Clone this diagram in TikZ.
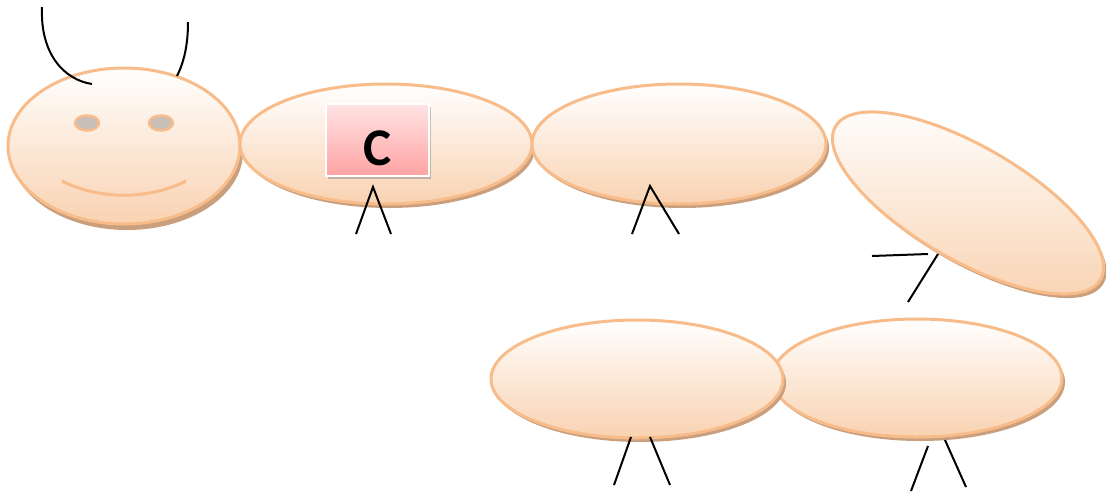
\documentclass[tikz,border=0pt]{standalone}
\usepackage{fontspec}
\setmainfont{Carlito}
\usetikzlibrary{shadows}
\definecolor{peachline}{HTML}{F8BC8A}
\definecolor{peachfill}{HTML}{F9D2B1}
\definecolor{shadowbrown}{HTML}{C99F7E}
\definecolor{eyegray}{HTML}{C9BFB9}
\definecolor{pinktop}{HTML}{FFE3E3}
\definecolor{pinkbot}{HTML}{FFA3A3}
\tikzset{
  seg/.style={top color=white, bottom color=peachfill, draw=peachline, line width=3pt},
  segshadow/.style={fill=shadowbrown},
  leg/.style={draw=black, line width=2pt},
  antenna/.style={draw=black, line width=2pt},
  eye/.style={fill=eyegray, draw=peachline, line width=2.5pt},
  smile/.style={draw=peachline, line width=3pt},
  cbox/.style={rectangle, top color=pinktop, bottom color=pinkbot, draw=white, line width=2pt,
    minimum width=103pt, minimum height=72pt, inner sep=0pt,
    text height=51pt, text depth=0pt,
    font=\fontsize{53}{62}\selectfont\bfseries,
    drop shadow={shadow xshift=1.5pt, shadow yshift=-2.5pt, opacity=0.35, fill=black!60}},
}
\begin{document}
\begin{tikzpicture}[x=1pt,y=-1pt]
\useasboundingbox (0,0) rectangle (1106,496);
% head
\fill[segshadow] (127,152) ellipse[x radius=116pt, y radius=78pt];
\shade[seg] (124,146) ellipse[x radius=116pt, y radius=78pt];
\filldraw[eye] (87,123) ellipse[x radius=12pt, y radius=7.5pt];
\filldraw[eye] (161,123) ellipse[x radius=12pt, y radius=7.5pt];
\draw[smile] (62,181) .. controls (100,200) and (148,200) .. (186,181);
% antennas
\draw[antenna] (42,7) .. controls (40,55) and (65,80) .. (92,84);
\draw[antenna] (188,22) .. controls (188,45) and (184,62) .. (177,76);
% body 1
\fill[segshadow] (389,148) ellipse[x radius=146pt, y radius=60pt];
\shade[seg] (386,144) ellipse[x radius=146pt, y radius=60pt];
% body 2
\fill[segshadow] (682,148) ellipse[x radius=147pt, y radius=60pt];
\shade[seg] (679,144) ellipse[x radius=147pt, y radius=60pt];
% body 3 (tilted)
\fill[segshadow] (971,207) ellipse[x radius=153pt, y radius=57pt, rotate=-30];
\shade[seg] (968,203) ellipse[x radius=153pt, y radius=57pt, rotate=-30];
% body 5
\fill[segshadow] (920,382) ellipse[x radius=145pt, y radius=59pt];
\shade[seg] (917,378) ellipse[x radius=145pt, y radius=59pt];
% body 4
\fill[segshadow] (640,383) ellipse[x radius=146pt, y radius=59pt];
\shade[seg] (637,379) ellipse[x radius=146pt, y radius=59pt];
% C box
\node[cbox] (cmark) at (377.5,140) {C};
% legs
\draw[leg] (356,234) -- (373,187) -- (391,234);
\draw[leg] (632,234) -- (650,186) -- (679,234);
\draw[leg] (872,256) -- (928,254);
\draw[leg] (938,254) -- (908,302);
\draw[leg] (631,437) -- (614,485);
\draw[leg] (650,437) -- (670,485);
\draw[leg] (928,446) -- (911,491);
\draw[leg] (945,440) -- (966,487);
\end{tikzpicture}
\end{document}
